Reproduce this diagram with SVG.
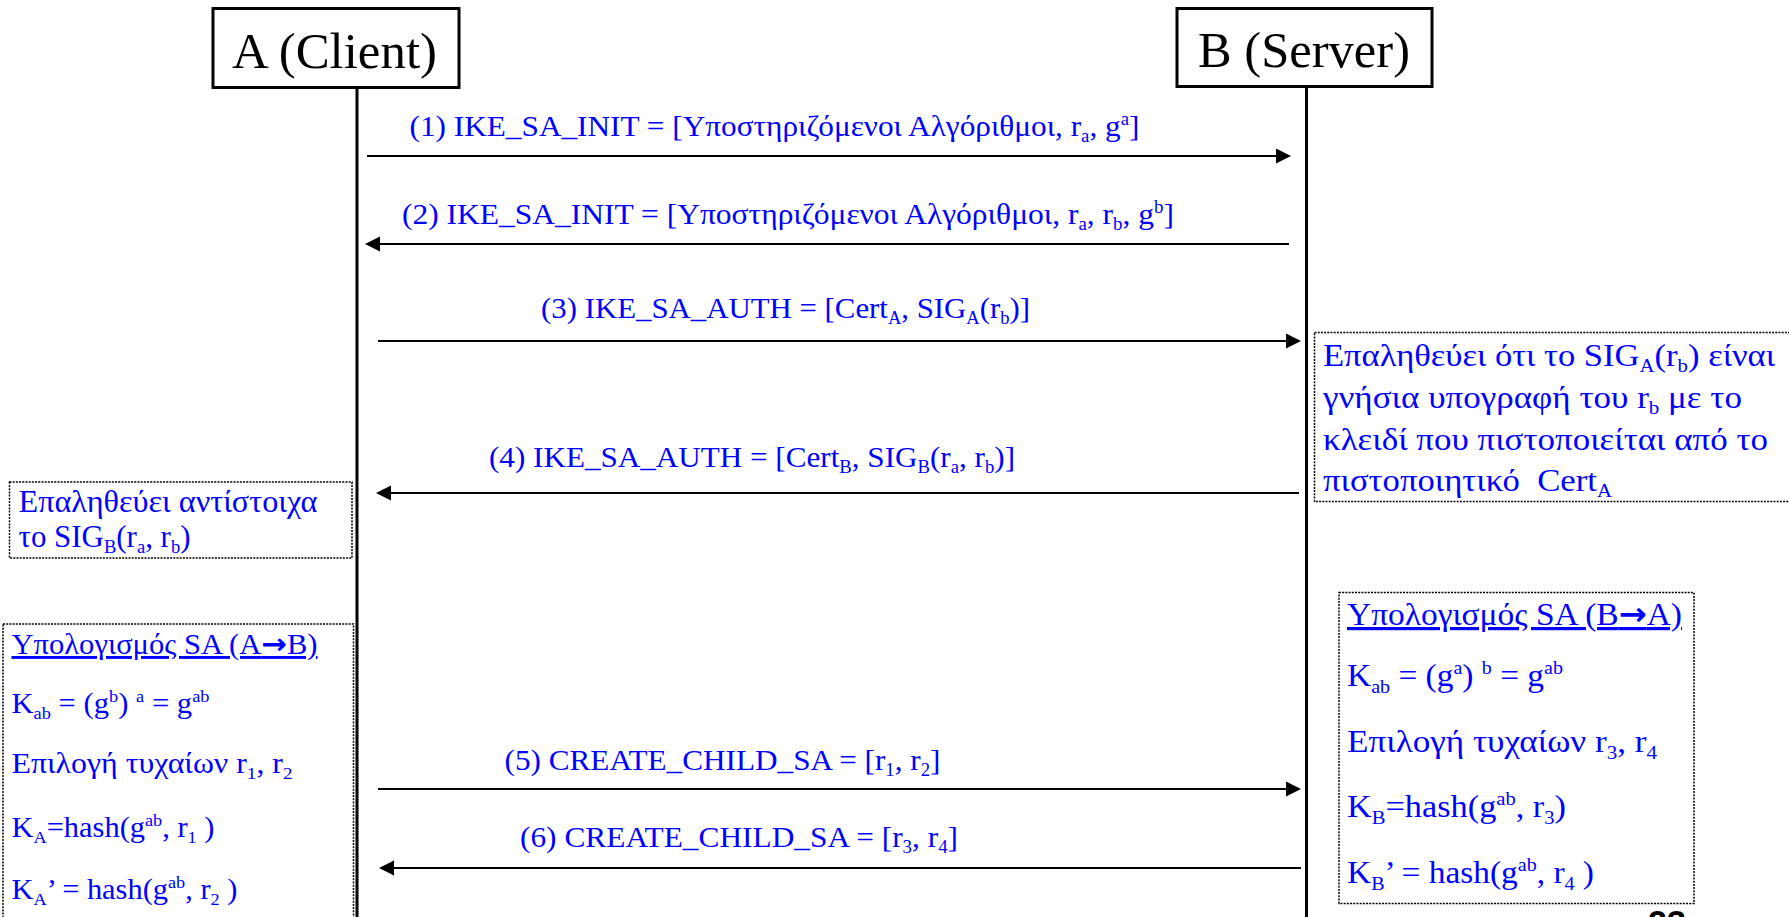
<svg xmlns="http://www.w3.org/2000/svg" width="1789" height="917" viewBox="0 0 1789 917">
<style>
.hdr{fill:#fff;stroke:#000;stroke-width:3}
.hdrt{font-family:"Liberation Serif","DejaVu Serif",serif;font-size:50px;fill:#000;text-anchor:middle}
.life{stroke:#000;stroke-width:3}
.msg{stroke:#000;stroke-width:2;fill:none}
.lbl{font-family:"Liberation Serif","DejaVu Serif",serif;font-size:30px;fill:#0000ff}
.note{fill:#fff;stroke:#000;stroke-width:1.5;stroke-dasharray:2 1.2}
.nt{font-family:"Liberation Serif","DejaVu Serif",serif;fill:#0000ff}
.s{font-size:60%}
.ar{font-family:"DejaVu Sans",sans-serif;font-weight:bold}
.num{font-family:"Liberation Sans",Arial,sans-serif;font-weight:bold;font-size:34px;fill:#000}
</style>
<defs>
<marker id="ah" markerUnits="userSpaceOnUse" markerWidth="16" markerHeight="16" refX="0" refY="7.5" orient="auto">
<path d="M0,0 L15,7.5 L0,15 z" fill="#000"/>
</marker>
</defs>
<rect width="1789" height="917" fill="#fff"/>

<g id="nodeA">
<line class="life" x1="357" y1="87" x2="357" y2="917"/>
<rect class="hdr" x="213" y="8.5" width="246" height="79"/>
<text class="hdrt" x="334.5" y="68" textLength="205" lengthAdjust="spacingAndGlyphs">A (Client)</text>
</g>
<g id="nodeB">
<line class="life" x1="1306.5" y1="86" x2="1306.5" y2="917"/>
<rect class="hdr" x="1177" y="8.5" width="255" height="78"/>
<text class="hdrt" x="1304" y="67" textLength="212" lengthAdjust="spacingAndGlyphs">B (Server)</text>
</g>

<g id="connectors">
<line class="msg" x1="367" y1="156" x2="1276" y2="156" marker-end="url(#ah)"/>
<text class="lbl" x="409.5" y="136" textLength="730" lengthAdjust="spacingAndGlyphs">(1) IKE_SA_INIT = [Υποστηριζόμενοι Αλγόριθμοι, r<tspan class="s" dy="6">a</tspan><tspan dy="-6">, g</tspan><tspan class="s" dy="-11">a</tspan><tspan dy="11">]</tspan></text>

<line class="msg" x1="1289" y1="244" x2="380" y2="244" marker-end="url(#ah)"/>
<text class="lbl" x="402" y="224" textLength="772" lengthAdjust="spacingAndGlyphs">(2) IKE_SA_INIT = [Υποστηριζόμενοι Αλγόριθμοι, r<tspan class="s" dy="6">a</tspan><tspan dy="-6">, r</tspan><tspan class="s" dy="6">b</tspan><tspan dy="-6">, g</tspan><tspan class="s" dy="-11">b</tspan><tspan dy="11">]</tspan></text>

<line class="msg" x1="378" y1="341" x2="1286" y2="341" marker-end="url(#ah)"/>
<text class="lbl" x="541" y="318" textLength="489" lengthAdjust="spacingAndGlyphs">(3) IKE_SA_AUTH = [Cert<tspan class="s" dy="6">A</tspan><tspan dy="-6">, SIG</tspan><tspan class="s" dy="6">A</tspan><tspan dy="-6">(r</tspan><tspan class="s" dy="6">b</tspan><tspan dy="-6">)]</tspan></text>

<line class="msg" x1="1299" y1="493" x2="391" y2="493" marker-end="url(#ah)"/>
<text class="lbl" x="489" y="467" textLength="526" lengthAdjust="spacingAndGlyphs">(4) IKE_SA_AUTH = [Cert<tspan class="s" dy="6">B</tspan><tspan dy="-6">, SIG</tspan><tspan class="s" dy="6">B</tspan><tspan dy="-6">(r</tspan><tspan class="s" dy="6">a</tspan><tspan dy="-6">, r</tspan><tspan class="s" dy="6">b</tspan><tspan dy="-6">)]</tspan></text>

<line class="msg" x1="378" y1="789" x2="1286" y2="789" marker-end="url(#ah)"/>
<text class="lbl" x="504.5" y="770" textLength="436" lengthAdjust="spacingAndGlyphs">(5) CREATE_CHILD_SA = [r<tspan class="s" dy="6">1</tspan><tspan dy="-6">, r</tspan><tspan class="s" dy="6">2</tspan><tspan dy="-6">]</tspan></text>

<line class="msg" x1="1301" y1="868" x2="394" y2="868" marker-end="url(#ah)"/>
<text class="lbl" x="520" y="847" textLength="438" lengthAdjust="spacingAndGlyphs">(6) CREATE_CHILD_SA = [r<tspan class="s" dy="6">3</tspan><tspan dy="-6">, r</tspan><tspan class="s" dy="6">4</tspan><tspan dy="-6">]</tspan></text>
</g>

<g id="verifyB">
<rect class="note" x="1314.5" y="332.5" width="490" height="169"/>
<text class="nt" font-size="31" x="1323" y="366" textLength="452" lengthAdjust="spacingAndGlyphs">Επαληθεύει ότι το SIG<tspan class="s" dy="6">A</tspan><tspan dy="-6">(r</tspan><tspan class="s" dy="6">b</tspan><tspan dy="-6">) είναι</tspan></text>
<text class="nt" font-size="31" x="1323" y="408" textLength="419" lengthAdjust="spacingAndGlyphs">γνήσια υπογραφή του r<tspan class="s" dy="6">b</tspan><tspan dy="-6"> με το</tspan></text>
<text class="nt" font-size="31" x="1323" y="450" textLength="445" lengthAdjust="spacingAndGlyphs">κλειδί που πιστοποιείται από το</text>
<text class="nt" font-size="31" x="1323" y="491" textLength="289" lengthAdjust="spacingAndGlyphs">πιστοποιητικό&#160; Cert<tspan class="s" dy="6">A</tspan></text>
</g>

<g id="verifyA">
<rect class="note" x="9.5" y="482" width="342.5" height="76"/>
<text class="nt" font-size="31" x="18.5" y="512" textLength="299" lengthAdjust="spacingAndGlyphs">Επαληθεύει αντίστοιχα</text>
<text class="nt" font-size="31" x="18.5" y="547" textLength="172" lengthAdjust="spacingAndGlyphs">το SIG<tspan class="s" dy="6">B</tspan><tspan dy="-6">(r</tspan><tspan class="s" dy="6">a</tspan><tspan dy="-6">, r</tspan><tspan class="s" dy="6">b</tspan><tspan dy="-6">)</tspan></text>
</g>

<g id="calcA">
<rect class="note" x="3" y="624" width="350.5" height="310"/>
<text class="nt" font-size="29" x="11.5" y="654" text-decoration="underline" textLength="306" lengthAdjust="spacingAndGlyphs">Υπολογισμός SA (A<tspan class="ar">→</tspan>B)</text>
<text class="nt" font-size="29" x="11.5" y="713" textLength="198" lengthAdjust="spacingAndGlyphs">K<tspan class="s" dy="6">ab</tspan><tspan dy="-6"> = (g</tspan><tspan class="s" dy="-11">b</tspan><tspan dy="11">) </tspan><tspan class="s" dy="-11">a</tspan><tspan dy="11"> = g</tspan><tspan class="s" dy="-11">ab</tspan></text>
<text class="nt" font-size="29" x="11.5" y="773" textLength="281" lengthAdjust="spacingAndGlyphs">Επιλογή τυχαίων r<tspan class="s" dy="6">1</tspan><tspan dy="-6">, r</tspan><tspan class="s" dy="6">2</tspan></text>
<text class="nt" font-size="29" x="11.5" y="837" textLength="203" lengthAdjust="spacingAndGlyphs">K<tspan class="s" dy="6">A</tspan><tspan dy="-6">=hash(g</tspan><tspan class="s" dy="-11">ab</tspan><tspan dy="11">, r</tspan><tspan class="s" dy="6">1</tspan><tspan dy="-6"> )</tspan></text>
<text class="nt" font-size="29" x="11.5" y="899" textLength="226" lengthAdjust="spacingAndGlyphs">K<tspan class="s" dy="6">A</tspan><tspan dy="-6">’ = hash(g</tspan><tspan class="s" dy="-11">ab</tspan><tspan dy="11">, r</tspan><tspan class="s" dy="6">2</tspan><tspan dy="-6"> )</tspan></text>
</g>

<g id="calcB">
<rect class="note" x="1339" y="592.5" width="355" height="311"/>
<text class="nt" font-size="32" x="1347" y="625" text-decoration="underline" textLength="335" lengthAdjust="spacingAndGlyphs">Υπολογισμός SA (B<tspan class="ar">→</tspan>A)</text>
<text class="nt" font-size="32" x="1347" y="686" textLength="216" lengthAdjust="spacingAndGlyphs">K<tspan class="s" dy="7">ab</tspan><tspan dy="-7"> = (g</tspan><tspan class="s" dy="-12">a</tspan><tspan dy="12">) </tspan><tspan class="s" dy="-12">b</tspan><tspan dy="12"> = g</tspan><tspan class="s" dy="-12">ab</tspan></text>
<text class="nt" font-size="32" x="1347" y="752" textLength="310" lengthAdjust="spacingAndGlyphs">Επιλογή τυχαίων r<tspan class="s" dy="7">3</tspan><tspan dy="-7">, r</tspan><tspan class="s" dy="7">4</tspan></text>
<text class="nt" font-size="32" x="1347" y="817" textLength="219" lengthAdjust="spacingAndGlyphs">K<tspan class="s" dy="7">B</tspan><tspan dy="-7">=hash(g</tspan><tspan class="s" dy="-12">ab</tspan><tspan dy="12">, r</tspan><tspan class="s" dy="7">3</tspan><tspan dy="-7">)</tspan></text>
<text class="nt" font-size="32" x="1347" y="883" textLength="247" lengthAdjust="spacingAndGlyphs">K<tspan class="s" dy="7">B</tspan><tspan dy="-7">’ = hash(g</tspan><tspan class="s" dy="-12">ab</tspan><tspan dy="12">, r</tspan><tspan class="s" dy="7">4</tspan><tspan dy="-7"> )</tspan></text>
</g>

<text class="num" x="1648" y="934">23</text>
</svg>
